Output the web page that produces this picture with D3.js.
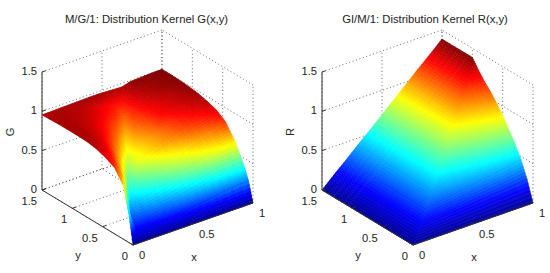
<!DOCTYPE html>
<html>
<head>
<meta charset="utf-8">
<script src="https://cdn.jsdelivr.net/npm/d3@7"></script>
<style>
  html, body { margin: 0; padding: 0; background: #fff; }
  text { font-family: "Liberation Sans", Arial, sans-serif; fill: #222; }
</style>
</head>
<body>
<div id="chart"></div>
<script>
// tick labels
var xTicks = [0, 0.5, 1];
var yTicks = [0, 0.5, 1, 1.5];
var zTicks = [0, 0.5, 1, 1.5];

// M/G/1 kernel. one row per y, one value per x
var gX = [0, 0.0667, 0.1333, 0.2, 0.2667, 0.3333, 0.4, 0.4667, 0.5333, 0.6, 0.6667, 0.7333, 0.8, 0.8667, 0.9333, 1];
var gY = [0, 0.075, 0.15, 0.3, 0.45, 0.6, 0.75, 0.9, 1.05, 1.2, 1.35, 1.5];
var gZ = [
  [0, 0, 0, 0, 0, 0, 0, 0, 0, 0, 0, 0, 0, 0, 0, 0],
  [0.40, 0.097, 0.097, 0.10, 0.113, 0.124, 0.134, 0.15, 0.165, 0.18, 0.194, 0.213, 0.227, 0.24, 0.25, 0.25],
  [0.67, 0.15, 0.18, 0.185, 0.209, 0.227, 0.245, 0.271, 0.296, 0.32, 0.344, 0.374, 0.395, 0.405, 0.41, 0.41],
  [0.84, 0.70, 0.29, 0.315, 0.351, 0.378, 0.405, 0.442, 0.477, 0.51, 0.54, 0.578, 0.605, 0.63, 0.64, 0.65],
  [0.90, 0.846, 0.684, 0.41, 0.451, 0.483, 0.513, 0.555, 0.593, 0.628, 0.66, 0.70, 0.725, 0.748, 0.785, 0.82],
  [0.94, 0.914, 0.83, 0.69, 0.50, 0.585, 0.617, 0.66, 0.70, 0.733, 0.763, 0.798, 0.821, 0.841, 0.875, 0.90],
  [0.96, 0.945, 0.90, 0.82, 0.72, 0.58, 0.64, 0.68, 0.72, 0.76, 0.80, 0.84, 0.87, 0.90, 0.92, 0.94],
  [0.965, 0.956, 0.93, 0.89, 0.83, 0.75, 0.65, 0.72, 0.76, 0.80, 0.86, 0.885, 0.91, 0.93, 0.95, 0.97],
  [0.965, 0.96, 0.94, 0.92, 0.885, 0.84, 0.79, 0.72, 0.79, 0.83, 0.875, 0.90, 0.925, 0.945, 0.965, 0.985],
  [0.965, 0.96, 0.95, 0.94, 0.92, 0.895, 0.865, 0.83, 0.79, 0.85, 0.90, 0.93, 0.955, 0.97, 0.985, 0.995],
  [0.96, 0.96, 0.955, 0.95, 0.94, 0.92, 0.90, 0.88, 0.86, 0.87, 0.925, 0.96, 0.97, 0.98, 0.99, 1],
  [0.955, 0.957, 0.96, 0.962, 0.965, 0.967, 0.97, 0.97, 0.965, 0.96, 0.955, 0.985, 0.99, 0.995, 1, 1]
];

// GI/M/1 kernel, same layout
var rX = [0, 0.1, 0.2, 0.3, 0.4, 0.5, 0.6, 0.7, 0.8, 0.9, 1];
var rY = [0, 0.1, 0.2, 0.3, 0.4, 0.5, 0.6, 0.7, 0.8, 0.9, 1, 1.25, 1.5];
var rZ = [
  [0, 0, 0, 0, 0, 0, 0, 0, 0, 0, 0],
  [0, 0.13, 0.144, 0.159, 0.173, 0.188, 0.202, 0.217, 0.231, 0.246, 0.26],
  [0, 0.13, 0.26, 0.285, 0.31, 0.335, 0.36, 0.385, 0.41, 0.435, 0.46],
  [0, 0.13, 0.26, 0.39, 0.423, 0.456, 0.489, 0.522, 0.555, 0.588, 0.62],
  [0, 0.13, 0.265, 0.39, 0.52, 0.558, 0.597, 0.635, 0.673, 0.712, 0.75],
  [0, 0.13, 0.265, 0.395, 0.525, 0.65, 0.696, 0.742, 0.788, 0.834, 0.88],
  [0, 0.13, 0.265, 0.395, 0.53, 0.655, 0.785, 0.836, 0.888, 0.939, 0.99],
  [0, 0.13, 0.265, 0.40, 0.53, 0.66, 0.79, 0.92, 0.977, 1.033, 1.09],
  [0, 0.135, 0.27, 0.40, 0.535, 0.665, 0.795, 0.93, 1.06, 1.115, 1.17],
  [0, 0.135, 0.27, 0.405, 0.535, 0.67, 0.80, 0.935, 1.07, 1.21, 1.27],
  [0, 0.135, 0.27, 0.405, 0.54, 0.675, 0.81, 0.94, 1.08, 1.22, 1.385],
  [0, 0.135, 0.27, 0.41, 0.545, 0.68, 0.82, 0.955, 1.095, 1.235, 1.385],
  [0, 0.14, 0.275, 0.415, 0.55, 0.69, 0.83, 0.97, 1.11, 1.245, 1.385]
];

var width = 550;
var height = 273;

var svg = d3.select("#chart")
  .append("svg")
  .attr("width", width)
  .attr("height", height)
  .style("display", "block");

// the view is a fixed oblique one, each data axis gets its own pixel scales
var xToPx = d3.scaleLinear().domain([0, 1]).range([0, 120]);
var xToPy = d3.scaleLinear().domain([0, 1]).range([0, -42]);
var yToPx = d3.scaleLinear().domain([0, 1.5]).range([0, -91]);
var yToPy = d3.scaleLinear().domain([0, 1.5]).range([0, -55]);
var zToPy = d3.scaleLinear().domain([0, 1.5]).range([0, -118]);

function project(x, y, z) {
  return [xToPx(x) + yToPx(y), xToPy(x) + yToPy(y) + zToPy(z)];
}

// matlab jet
var jet = d3.scaleLinear()
  .domain([0, 0.125, 0.375, 0.625, 0.875, 1])
  .range(["#00008f", "#0000ff", "#00ffff", "#ffff00", "#ff0000", "#800000"])
  .clamp(true);

// chop one triangle of the grid into small flat pieces so it looks like shading interp
function addPieces(out, a, b, c, n, zMax) {
  function at(i, j) {
    var u = i / n, v = j / n, w = 1 - u - v;
    return [a[0] * w + b[0] * u + c[0] * v,
            a[1] * w + b[1] * u + c[1] * v,
            a[2] * w + b[2] * u + c[2] * v];
  }
  function piece(p, q, r) {
    var pts = [p, q, r].map(function (d) { return project(d[0], d[1], d[2]); });
    out.push({
      d: "M" + pts.join("L") + "Z",
      color: jet((p[2] + q[2] + r[2]) / 3 / zMax)
    });
  }
  for (var i = 0; i < n; i++) {
    for (var j = 0; j < n - i; j++) {
      piece(at(i, j), at(i + 1, j), at(i, j + 1));
      if (i + j < n - 1) piece(at(i + 1, j), at(i + 1, j + 1), at(i, j + 1));
    }
  }
}

function drawPanel(px, title, titleX, zName, xs, ys, zs) {
  var g = svg.append("g").attr("transform", "translate(" + px + ",245)");
  var zMax = d3.max(zs, function (row) { return d3.max(row); });

  function line(cls, a, b) {
    var p = project(a[0], a[1], a[2]), q = project(b[0], b[1], b[2]);
    return g.append("line")
      .attr("class", cls)
      .attr("x1", p[0]).attr("y1", p[1])
      .attr("x2", q[0]).attr("y2", q[1]);
  }

  // dotted grid on the floor and the two back walls
  var grid = [];
  xTicks.forEach(function (x) {
    grid.push([[x, 0, 0], [x, 1.5, 0]]);
    grid.push([[x, 1.5, 0], [x, 1.5, 1.5]]);
  });
  yTicks.forEach(function (y) {
    grid.push([[0, y, 0], [1, y, 0]]);
    grid.push([[1, y, 0], [1, y, 1.5]]);
  });
  zTicks.forEach(function (z) {
    grid.push([[0, 1.5, z], [1, 1.5, z]]);
    grid.push([[1, 0, z], [1, 1.5, z]]);
  });
  grid.forEach(function (d) {
    line("grid", d[0], d[1])
      .attr("stroke", "#444")
      .attr("stroke-width", 0.8)
      .attr("stroke-dasharray", "1 2.6");
  });

  // surface, painted from the back corner to the front one
  var pieces = [];
  for (var j = ys.length - 2; j >= 0; j--) {
    for (var i = xs.length - 2; i >= 0; i--) {
      var p00 = [xs[i], ys[j], zs[j][i]];
      var p10 = [xs[i + 1], ys[j], zs[j][i + 1]];
      var p01 = [xs[i], ys[j + 1], zs[j + 1][i]];
      var p11 = [xs[i + 1], ys[j + 1], zs[j + 1][i + 1]];
      addPieces(pieces, p00, p11, p01, 6, zMax);
      addPieces(pieces, p00, p10, p11, 6, zMax);
    }
  }
  g.append("g").selectAll("path")
    .data(pieces)
    .join("path")
    .attr("d", function (d) { return d.d; })
    .attr("fill", function (d) { return d.color; })
    .attr("stroke", function (d) { return d.color; })
    .attr("stroke-width", 0.5);

  // solid axes
  var axes = [
    [[0, 1.5, 0], [0, 1.5, 1.5]],
    [[0, 0, 0], [0, 1.5, 0]],
    [[0, 0, 0], [1, 0, 0]]
  ];
  axes.forEach(function (d) {
    line("axis", d[0], d[1]).attr("stroke", "#333").attr("stroke-width", 1);
  });
  zTicks.forEach(function (z) {
    line("tick", [0, 1.5, z], [0.03, 1.5, z]).attr("stroke", "#333");
    var p = project(0, 1.5, z);
    g.append("text").attr("x", p[0] - 5).attr("y", p[1] + 3)
      .attr("text-anchor", "end").attr("font-size", 11.2).text(z);
  });
  yTicks.forEach(function (y) {
    line("tick", [0, y, 0], [0.03, y, 0]).attr("stroke", "#333");
    var p = project(0, y, 0);
    g.append("text").attr("x", p[0] - 5).attr("y", p[1] + 15)
      .attr("text-anchor", "end").attr("font-size", 11.2).text(y);
  });
  xTicks.forEach(function (x) {
    line("tick", [x, 0, 0], [x, 0.04, 0]).attr("stroke", "#333");
    var p = project(x, 0, 0);
    g.append("text").attr("x", p[0] + 6).attr("y", p[1] + 14)
      .attr("text-anchor", "start").attr("font-size", 11.2).text(x);
  });

  // labels, placed by eye in page coordinates
  svg.append("text").attr("x", titleX).attr("y", 23)
    .attr("text-anchor", "middle").attr("font-size", 11.3).text(title);
  svg.append("text").attr("x", px + 61).attr("y", 261)
    .attr("text-anchor", "middle").attr("font-size", 11.2).text("x");
  svg.append("text").attr("x", px - 55).attr("y", 259)
    .attr("text-anchor", "middle").attr("font-size", 11.2).text("y");
  svg.append("text")
    .attr("transform", "translate(" + (px - 119) + ",132) rotate(-90)")
    .attr("text-anchor", "middle").attr("font-size", 11.2).text(zName);
}

drawPanel(133, "M/G/1: Distribution Kernel G(x,y)", 146.5, "G", gX, gY, gZ);
drawPanel(413, "GI/M/1: Distribution Kernel R(x,y)", 425, "R", rX, rY, rZ);
</script>
</body>
</html>
